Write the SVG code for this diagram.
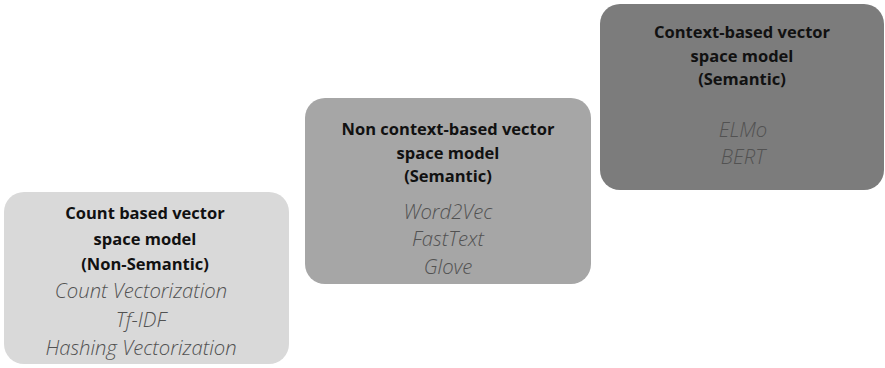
<svg xmlns="http://www.w3.org/2000/svg" width="885" height="368" viewBox="0 0 885 368">
<style>
.t{font-family:"Open Sans","Liberation Sans",sans-serif;font-weight:bold;font-size:16.5px;fill:#111;text-anchor:middle}
.i{font-family:"Open Sans","Liberation Sans",sans-serif;font-style:italic;font-weight:300;font-size:20.3px;fill:#525252;text-anchor:middle}
</style>
<rect width="885" height="368" fill="#fff"/>
<g id="node-count">
<rect x="4" y="192" width="285" height="172" rx="20" fill="#d9d9d9"/>
<text class="t" x="145" y="219">Count based vector</text>
<text class="t" x="145" y="245">space model</text>
<text class="t" x="145" y="270">(Non-Semantic)</text>
<text class="i" x="141" y="298">Count Vectorization</text>
<text class="i" x="141" y="327">Tf-IDF</text>
<text class="i" x="141" y="355">Hashing Vectorization</text>
</g>
<g id="node-noncontext">
<rect x="305" y="98" width="286" height="186" rx="20" fill="#a6a6a6"/>
<text class="t" x="448" y="135">Non context-based vector</text>
<text class="t" x="448" y="159">space model</text>
<text class="t" x="448" y="182">(Semantic)</text>
<text class="i" x="448" y="219">Word2Vec</text>
<text class="i" x="448" y="246">FastText</text>
<text class="i" x="448" y="274">Glove</text>
</g>
<g id="node-context">
<rect x="600" y="4" width="284" height="186" rx="20" fill="#7c7c7c"/>
<text class="t" x="742" y="38">Context-based vector</text>
<text class="t" x="742" y="62">space model</text>
<text class="t" x="742" y="85">(Semantic)</text>
<text class="i" x="743" y="137">ELMo</text>
<text class="i" x="743" y="164">BERT</text>
</g>
<g id="connectors"></g>
</svg>
